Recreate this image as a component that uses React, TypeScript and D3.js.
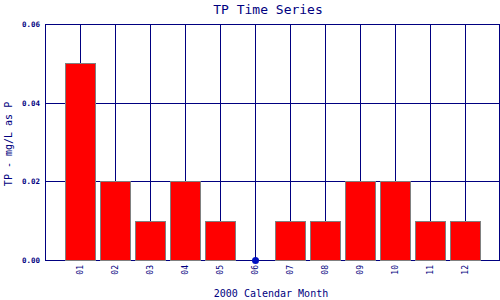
import React from "react";
import * as d3 from "d3";

const months = ["01", "02", "03", "04", "05", "06", "07", "08", "09", "10", "11", "12"];
const tpValues = [0.05, 0.02, 0.01, 0.02, 0.01, 0.0, 0.01, 0.01, 0.02, 0.02, 0.01, 0.01];
const yTicks = [0.0, 0.02, 0.04, 0.06];

const W = 500, H = 300;
const left = 45, right = 499.5, top = 24, bottom = 260;
const navy = "#000080";
const font = "'DejaVu Sans Mono', 'Liberation Mono', monospace";

export default function App() {
  const x = d3.scaleLinear().domain([0, 13]).range([left, left + 455]);
  const y = d3.scaleLinear().domain([0, 0.06]).range([bottom, top]);
  const bw = 30;
  return (
    <svg width={W} height={H} style={{ position: "absolute", left: 0, top: 0, background: "#fff" }}>
      <rect x={0} y={0} width={W} height={H} fill="#fff" />
      {months.map((m, i) => (
        <line key={"v" + m} x1={Math.round(x(i + 1)) + 0.5} x2={Math.round(x(i + 1)) + 0.5} y1={top} y2={bottom} stroke={navy} strokeWidth={1} />
      ))}
      {yTicks.map((t) => (
        <line key={"h" + t} x1={left} x2={right} y1={Math.round(y(t)) + 0.5} y2={Math.round(y(t)) + 0.5} stroke={navy} strokeWidth={1} />
      ))}
      {tpValues.map((v, i) =>
        v > 0 ? (
          <rect key={"b" + i} x={Math.round(x(i + 1) - bw / 2) + 0.5} y={Math.round(y(v)) + 0.5} width={bw} height={Math.round(y(0)) - Math.round(y(v))} fill="#ff0000" stroke="#808080" strokeWidth={1} />
        ) : (
          <circle key={"c" + i} cx={x(i + 1) + 0.5} cy={y(0) + 0.5} r={3.5} fill="#0010c0" />
        )
      )}
      <line x1={left + 0.5} x2={left + 0.5} y1={top} y2={bottom + 1} stroke={navy} strokeWidth={1} />
      <line x1={right} x2={right} y1={top} y2={bottom + 1} stroke={navy} strokeWidth={1} />
      {yTicks.map((t) => (
        <text key={"yl" + t} x={40} y={y(t) + 0.5} dy="0.35em" textAnchor="end" fontFamily={font} fontSize={7.5} fontWeight="bold" fill={navy}>
          {d3.format(".2f")(t)}
        </text>
      ))}
      {months.map((m, i) => (
        <text key={"xl" + m} transform={`translate(${x(i + 1) + 0.5},${265}) rotate(-90)`} textAnchor="end" dy="0.35em" fontFamily={font} fontSize={8} fill={navy}>
          {m}
        </text>
      ))}
      <text x={268} y={14} textAnchor="middle" fontFamily={font} fontSize={13} fill={navy}>TP Time Series</text>
      <text x={271} y={297} textAnchor="middle" fontFamily={font} fontSize={10} fill={navy}>2000 Calendar Month</text>
      <text transform={`translate(8,144) rotate(-90)`} textAnchor="middle" dy="0.35em" fontFamily={font} fontSize={10} fill={navy}>TP - mg/L as P</text>
    </svg>
  );
}
